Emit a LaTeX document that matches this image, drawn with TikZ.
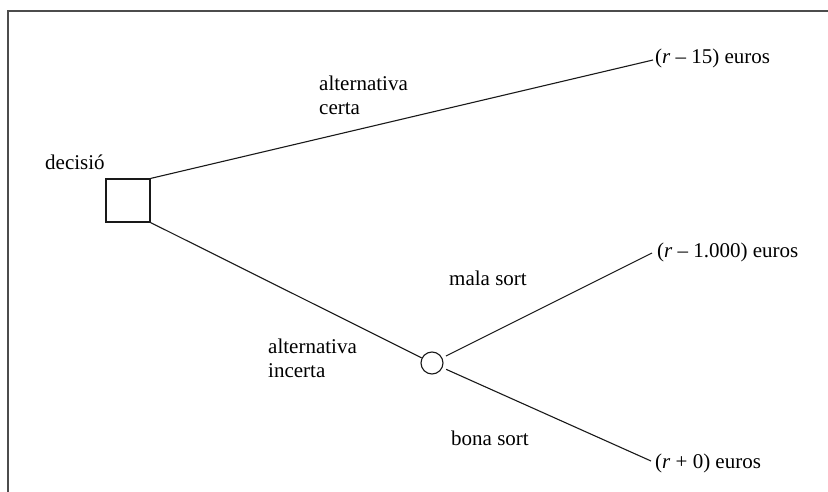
\documentclass[tikz,border=0pt]{standalone}
\usepackage{fontspec}
\setmainfont{Liberation Serif}
\begin{document}
\begin{tikzpicture}[x=1pt,y=-1pt,
  lbl/.style={anchor=base west,inner sep=0pt,font=\fontsize{21}{24}\selectfont,align=left},
  conn/.style={line width=1.1pt,black!90},
  decbox/.style={draw,line width=1.1pt,black!90,minimum width=44pt,minimum height=43pt,inner sep=0pt},
  chance/.style={draw,circle,line width=1.1pt,black!90,minimum size=22pt,inner sep=0pt}]
\useasboundingbox (0,0) rectangle (828,492);
\draw[line width=1.4pt,black!70] (8,492) -- (8,11) -- (828,11);
\node[decbox] (dec) at (128,200.5) {};
\node[chance] (ch) at (432,363) {};
\coordinate (e1) at (653,60);
\coordinate (e2) at (652,253);
\coordinate (e3) at (651,461);
\node[lbl] (o1) at (655,64) {(\textit{r} -- 15) euros};
\node[lbl] (o2) at (657,257) {(\textit{r} -- 1.000) euros};
\node[lbl] (o3) at (655,468) {(\textit{r} + 0) euros};
\node[lbl] (ldec) at (45,170) {decisió};
\node[lbl] (lcert) at (319,115) {alternativa\\certa};
\node[lbl] (linc) at (268,377) {alternativa\\incerta};
\node[lbl] (lmala) at (449,285) {mala sort};
\node[lbl] (lbona) at (451,445) {bona sort};
\draw[conn] (dec.north east) -- (e1);
\draw[conn] (dec.south east) -- (ch);
\draw[conn,shorten <=4pt] (ch) -- (e2);
\draw[conn,shorten <=4pt] (ch) -- (e3);
\end{tikzpicture}
\end{document}
